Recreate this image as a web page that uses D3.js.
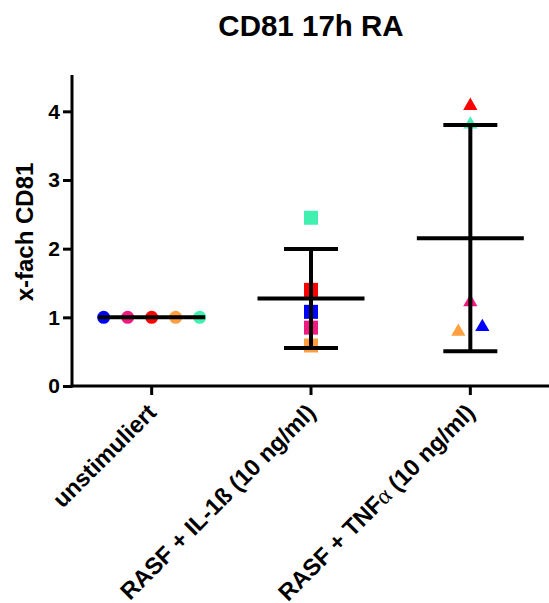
<!DOCTYPE html>
<html>
<head>
<meta charset="utf-8">
<script src="https://cdn.jsdelivr.net/npm/d3@7"></script>
<style>
  html, body { margin: 0; padding: 0; background: #fff; }
  svg { display: block; font-family: "Liberation Sans", Arial, sans-serif; }
</style>
</head>
<body>
<svg id="chart" width="549" height="603"></svg>
<script>
// Groups on the x axis
const groups = ["unstimuliert", "RASF + IL-1ß (10 ng/ml)", "RASF + TNFα (10 ng/ml)"];
// One colour per donor, same order in every value list
const donorColors = ["#0000FF", "#F0197F", "#FF0000", "#FFA040", "#40F0B0"];
// x-fold CD81 per donor
const unstimValues = [1.00, 1.00, 1.00, 1.00, 1.00];
const il1bValues   = [1.08, 0.85, 1.40, 0.59, 2.45];
const tnfValues    = [0.86, 1.22, 4.08, 0.79, 3.81];
const groupSymbols = ["circle", "square", "triangle"];
const yTicks = [0, 1, 2, 3, 4];

const seriesValues = [unstimValues, il1bValues, tnfValues];

const svg = d3.select("#chart");
const W = 549, H = 603;
const plotLeft = 72, plotRight = 550, plotTop = 77, plotBottom = 386;

const x = d3.scaleBand().domain(groups).range([plotLeft, plotRight]).paddingInner(0).paddingOuter(0);
const y = d3.scaleLinear().domain([0, 4.5]).range([plotBottom, plotTop]);

const symbolType = {
  circle: d3.symbolCircle,
  square: d3.symbolSquare,
  triangle: d3.symbolTriangle
};
const symbolSize = { circle: 133, square: 196, triangle: 88 };

// Title
svg.append("text")
  .attr("x", 311).attr("y", 36)
  .attr("text-anchor", "middle")
  .attr("font-size", 29.5).attr("font-weight", "bold")
  .text("CD81 17h RA");

// Y axis title
svg.append("text")
  .attr("transform", "translate(33,232) rotate(-90)")
  .attr("text-anchor", "middle")
  .attr("font-size", 24).attr("font-weight", "bold")
  .text("x-fach CD81");

// Scatter: points with nearly equal values are spread sideways
const spread = 24, minGap = 14;
groups.forEach((g, gi) => {
  const vals = seriesValues[gi];
  const pts = vals.map((v, i) => ({ v, i, dx: 0 }));
  const sorted = pts.slice().sort((a, b) => a.v - b.v || a.i - b.i);
  const clusters = [];
  sorted.forEach(p => {
    const last = clusters[clusters.length - 1];
    if (last && Math.abs(y(last[last.length - 1].v) - y(p.v)) < minGap) last.push(p);
    else clusters.push([p]);
  });
  clusters.forEach(c => c.forEach((p, k) => { p.dx = (k - (c.length - 1) / 2) * spread; }));

  const cx = x(g) + x.bandwidth() / 2;
  const shape = groupSymbols[gi];
  const sym = d3.symbol().type(symbolType[shape]).size(symbolSize[shape]);
  svg.append("g").selectAll("path").data(pts).join("path")
    .attr("d", sym)
    .attr("transform", p => `translate(${cx + p.dx},${y(p.v)})`)
    .attr("fill", p => donorColors[p.i]);
});

// Mean and SD bars
groups.forEach((g, gi) => {
  const vals = seriesValues[gi];
  const m = d3.mean(vals);
  const sd = d3.deviation(vals);
  const cx = x(g) + x.bandwidth() / 2;
  const lg = svg.append("g").attr("stroke", "#000").attr("stroke-width", 4);
  if (sd > 0) {
    lg.append("line").attr("x1", cx).attr("x2", cx).attr("y1", y(m + sd)).attr("y2", y(m - sd));
    [m + sd, m - sd].forEach(v => {
      lg.append("line").attr("x1", cx - 27).attr("x2", cx + 27).attr("y1", y(v)).attr("y2", y(v));
    });
  }
  lg.append("line").attr("x1", cx - 53.5).attr("x2", cx + 53.5).attr("y1", y(m)).attr("y2", y(m));
});

// Y axis
const yAxis = svg.append("g")
  .attr("transform", `translate(${plotLeft},0)`)
  .call(d3.axisLeft(y).tickValues(yTicks).tickFormat(d3.format("d")).tickSize(9).tickSizeOuter(0).tickPadding(3));
yAxis.select(".domain").attr("stroke-width", 3).attr("d", `M0,${plotTop - 2}V${plotBottom + 1.5}`);
yAxis.selectAll(".tick line").attr("stroke-width", 3);
yAxis.selectAll(".tick text").attr("font-size", 21).attr("font-weight", "bold")
  .attr("font-family", "'Liberation Sans', Arial, sans-serif").attr("fill", "#000");

// X axis
const xAxis = svg.append("g")
  .attr("transform", `translate(0,${plotBottom})`)
  .call(d3.axisBottom(x).tickSize(9).tickSizeOuter(0).tickFormat(""));
xAxis.select(".domain").attr("stroke-width", 3).attr("d", `M${plotLeft - 1.5},0H${W}`);
xAxis.selectAll(".tick line").attr("stroke-width", 3);

// Rotated group labels
groups.forEach(g => {
  const cx = x(g) + x.bandwidth() / 2;
  const t = svg.append("text")
    .attr("transform", `translate(${cx + 6},${plotBottom + 28}) rotate(-45)`)
    .attr("text-anchor", "end")
    .attr("font-size", 23.5).attr("font-weight", "bold");
  const ai = g.indexOf("α");
  if (ai >= 0) {
    t.append("tspan").text(g.slice(0, ai));
    t.append("tspan").attr("font-family", "'Liberation Serif', serif").attr("font-weight", "normal").text("α");
    t.append("tspan").text(g.slice(ai + 1));
  } else {
    t.text(g);
  }
});
</script>
</body>
</html>
